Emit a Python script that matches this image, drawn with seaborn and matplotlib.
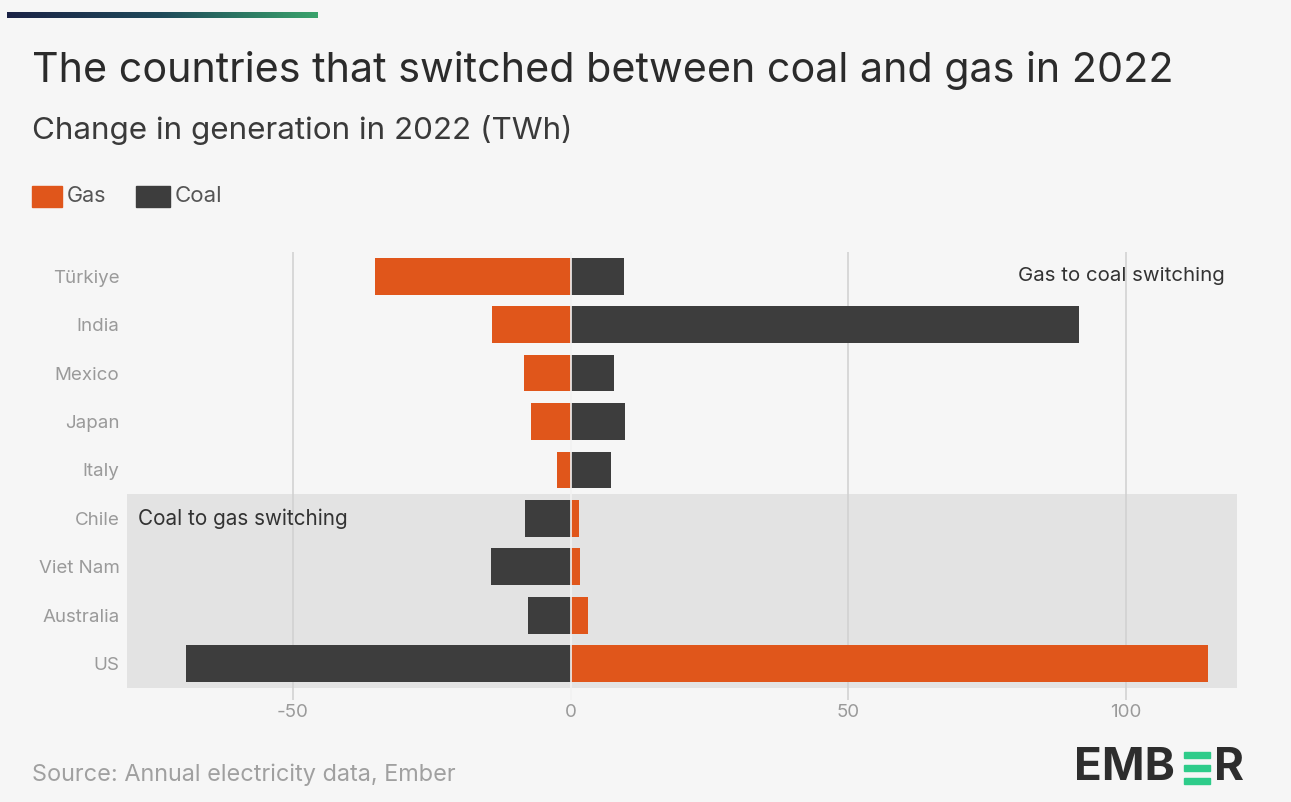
import numpy as np
import pandas as pd
import seaborn as sns
import matplotlib.pyplot as plt
from matplotlib.patches import Rectangle

# Change in generation in 2022 (TWh)
countries = ["Türkiye", "India", "Mexico", "Japan", "Italy",
             "Chile", "Viet Nam", "Australia", "US"]
gas = [-35.2, -14.1, -8.4, -7.1, -2.5, 1.5, 1.8, 3.2, 114.9]
coal = [9.6, 91.6, 7.8, 9.9, 7.3, -8.2, -14.4, -7.7, -69.3]
xticks = [-50, 0, 50, 100]

df = pd.DataFrame({"Country": countries, "Gas": gas, "Coal": coal})

BG = "#f6f6f6"
GAS_C = "#e0561b"
COAL_C = "#3d3d3d"

sns.set_style("white")
plt.rcParams["font.family"] = ["Inter", "DejaVu Sans"]

W, H = 1291, 802
fig = plt.figure(figsize=(W / 100, H / 100), dpi=100, facecolor=BG)


def fx(px):
    return px / W


def fy(py):
    return 1 - py / H


ax = fig.add_axes([fx(126.5), fy(700), fx(1236.5) - fx(126.5), fy(252) - fy(700)])
ax.set_facecolor(BG)

# shaded band for the coal-to-gas countries
ax.axhspan(4.5, 8.5, color="#e3e3e3", zorder=0, lw=0)

for x in xticks:
    if x != 0:
        ax.axvline(x, color="#d2d2d2", lw=1.2, zorder=1)

sns.barplot(data=df, y="Country", x="Gas", color=GAS_C, orient="h",
            width=0.76, saturation=1, linewidth=0, ax=ax, zorder=3)
sns.barplot(data=df, y="Country", x="Coal", color=COAL_C, orient="h",
            width=0.76, saturation=1, linewidth=0, ax=ax, zorder=3)
ax.axvline(0, color="#f2f2f2", lw=1.2, zorder=4)

ax.set_xlim(-80, 120)
ax.set_ylim(8.75, -0.5)
ax.set_xticks(xticks)
ax.set_xticklabels([str(v) for v in xticks])
ax.set_xlabel("")
ax.set_ylabel("")
ax.tick_params(axis="both", length=0, labelsize=13.5, labelcolor="#9a9a9a")
ax.tick_params(axis="y", pad=5)
ax.tick_params(axis="x", pad=3)
sns.despine(ax=ax, left=True, bottom=True)

ax.text(117.8, 0, "Gas to coal switching", ha="right", va="center",
        fontsize=14.7, color="#333333", zorder=5)
ax.text(-78, 5, "Coal to gas switching", ha="left", va="center",
        fontsize=14.9, color="#333333", zorder=5)

# titles
fig.text(fx(32), fy(70), "The countries that switched between coal and gas in 2022",
         fontsize=29.7, color="#2b2b2b", va="center", ha="left")
fig.text(fx(32), fy(130), "Change in generation in 2022 (TWh)",
         fontsize=22.6, color="#3a3a3a", va="center", ha="left")

# legend
fig.patches.append(Rectangle((fx(32), fy(207)), fx(30), fy(186) - fy(207),
                             transform=fig.transFigure, color=GAS_C))
fig.text(fx(67), fy(196), "Gas", fontsize=15.5, color="#555555", va="center")
fig.patches.append(Rectangle((fx(136), fy(207)), fx(34), fy(186) - fy(207),
                             transform=fig.transFigure, color=COAL_C))
fig.text(fx(175), fy(196), "Coal", fontsize=16, color="#555555", va="center")

# source
fig.text(fx(32), fy(775), "Source: Annual electricity data, Ember",
         fontsize=16.9, color="#a0a0a0", va="center")

# EMBER logo
fig.text(fx(1074), fy(768), "EMB", fontsize=33, fontweight="bold",
         color="#2d2d2d", va="center", ha="left")
for yy in (752, 765, 778):
    fig.patches.append(Rectangle((fx(1184), fy(yy + 6)), fx(26), fy(yy) - fy(yy + 6),
                                 transform=fig.transFigure, color="#2ecc8a"))
fig.text(fx(1214), fy(768), "R", fontsize=33, fontweight="bold",
         color="#2d2d2d", va="center", ha="left")

# gradient bar at top
gax = fig.add_axes([fx(7), fy(18), fx(318) - fx(7), fy(12) - fy(18)])
grad = np.linspace(0, 1, 256).reshape(1, -1)
cmap = plt.matplotlib.colors.LinearSegmentedColormap.from_list(
    "ember", ["#1b2346", "#1f4a5a", "#3aa36c"])
gax.imshow(grad, aspect="auto", cmap=cmap)
gax.axis("off")

fig.savefig("out.png", dpi=100, facecolor=BG)
